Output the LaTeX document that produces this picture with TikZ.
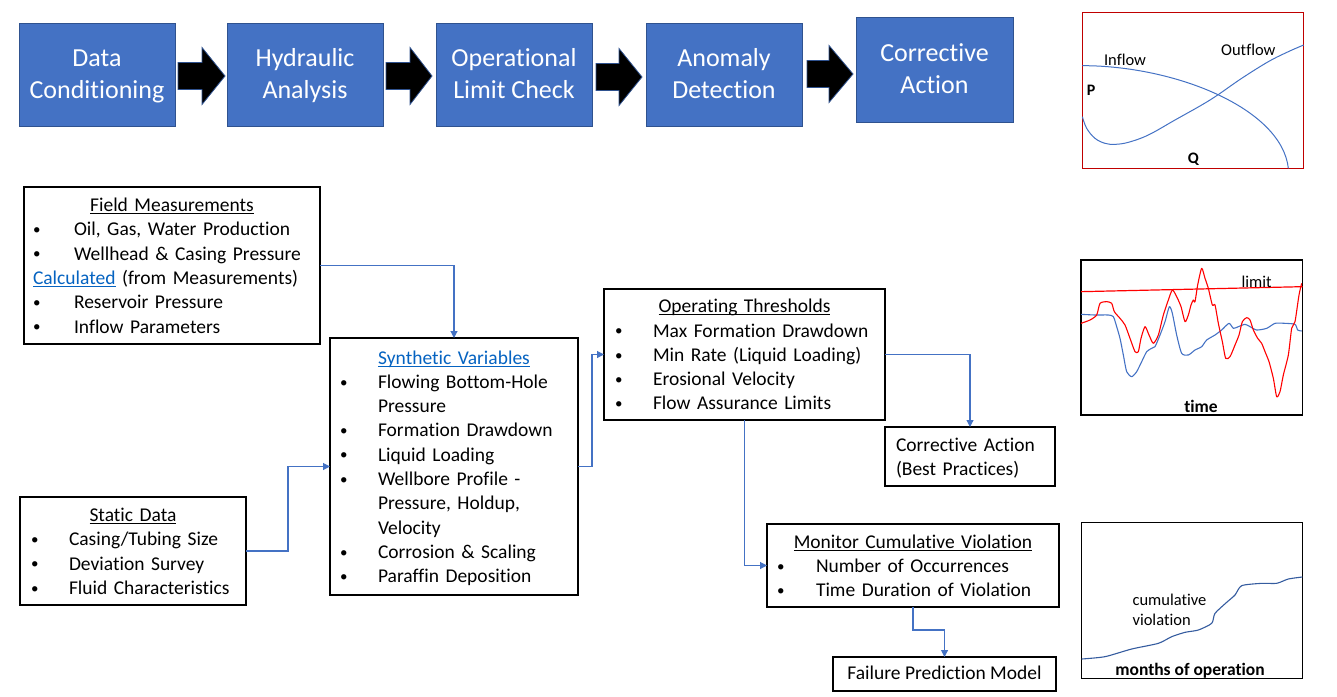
\documentclass[tikz,border=0pt]{standalone}
\usepackage{fontspec}
\setmainfont{Carlito}[Ligatures=NoCommon]
\usetikzlibrary{arrows.meta}
\definecolor{boxblue}{HTML}{4472C4}
\definecolor{boxedge}{HTML}{2F528F}
\definecolor{linkblue}{HTML}{0563C1}
\definecolor{darkred}{HTML}{C00000}
\definecolor{plotred}{HTML}{FF0000}
\newcommand\bul[1]{\makebox[#1][l]{\raisebox{1.3pt}{\fontsize{15}{15}\selectfont •}}}
\newcommand\myul[1]{\leavevmode\setbox0\hbox{#1}\rlap{\rule[-2.6pt]{\wd0}{0.9pt}}\box0}
\newcommand\ctr[1]{\makebox[\hsize]{#1}}
\newcommand\tsa{\rule{0pt}{26.4pt}}
\newcommand\tsb{\rule[-9.6pt]{0pt}{0pt}}
\newcommand\bsa{\rule{0pt}{21pt}}
\begin{document}
\begin{tikzpicture}[x=1pt,y=-1pt,
  topbox/.style={draw=boxedge, line width=1pt, fill=boxblue, text=white, align=center,
    inner sep=0pt, outer sep=0pt, font=\fontsize{26}{32}\selectfont},
  tbox/.style={draw=black, line width=1.1pt, fill=white, align=left, inner ysep=0pt, outer sep=0pt,
    font=\fontsize{19.5}{24.3}\selectfont, execute at begin node={\setlength{\parindent}{0pt}}},
  conn/.style={draw=boxblue, line width=1.1pt, -{Triangle[width=7pt,length=7pt]}},
  blk/.style={fill=black, draw=boxedge, line width=0.8pt},
  lbl/.style={inner sep=0pt, font=\fontsize{16.5}{20}\selectfont},
  blbl/.style={inner sep=0pt, font=\fontsize{17.5}{20}\selectfont\bfseries},
  plotline/.style={line width=1.1pt, line join=round}]
\useasboundingbox (0,0) rectangle (1337,696);

% top process boxes
\node[topbox, minimum width=156pt, minimum height=103pt] (t1) at (97,74.5) {\tsa Data\\Conditioning\tsb};
\node[topbox, minimum width=156pt, minimum height=103pt] (t2) at (305,74.5) {\tsa Hydraulic\\Analysis\tsb};
\node[topbox, minimum width=156pt, minimum height=103pt] (t3) at (514,74.5) {\tsa Operational\\Limit Check\tsb};
\node[topbox, minimum width=156pt, minimum height=103pt] (t4) at (724,74.5) {\tsa Anomaly\\Detection\tsb};
\node[topbox, minimum width=157pt, minimum height=105pt] (t5) at (934.5,69.5) {\tsa Corrective\\Action\tsb};

% block arrows
\filldraw[blk] (178,62.5) -- (202,62.5) -- (202,47.5) -- (225,76) -- (202,104.5) -- (202,89.5) -- (178,89.5) -- cycle;
\filldraw[blk] (386,62.5) -- (410,62.5) -- (410,47.5) -- (432,76) -- (410,104.5) -- (410,89.5) -- (386,89.5) -- cycle;
\filldraw[blk] (596,63.5) -- (619,63.5) -- (619,48.5) -- (642,77) -- (619,105.5) -- (619,90.5) -- (596,90.5) -- cycle;
\filldraw[blk] (807,60.5) -- (829,60.5) -- (829,45.5) -- (853,74) -- (829,102.5) -- (829,87.5) -- (807,87.5) -- cycle;

% text boxes
\node[tbox, minimum width=296pt, minimum height=157pt, inner xsep=9pt, text width=278pt] (fm) at (172,265.5)
 {\bsa\ctr{\myul{Field Measurements}}\\
  \bul{41pt}Oil, Gas, Water Production\\
  \bul{41pt}Wellhead \& Casing Pressure\\
  {\color{linkblue}\myul{Calculated}} (from Measurements)\\
  \bul{41pt}Reservoir Pressure\\
  \bul{41pt}Inflow Parameters\strut};

\node[tbox, minimum width=226pt, minimum height=108pt, inner xsep=11pt, text width=204pt] (sd) at (133,551)
 {\bsa\ctr{\myul{Static Data}}\\
  \bul{38pt}Casing/Tubing Size\\
  \bul{38pt}Deviation Survey\\
  \bul{38pt}Fluid Characteristics\strut};

\node[tbox, minimum width=248pt, minimum height=257pt, inner xsep=10pt, text width=228pt] (syn) at (454,466.5)
 {\bsa\ctr{\color{linkblue}\myul{Synthetic Variables}}\\
  \bul{38pt}Flowing Bottom-Hole\\
  \hspace*{38pt}Pressure\\
  \bul{38pt}Formation Drawdown\\
  \bul{38pt}Liquid Loading\\
  \bul{38pt}Wellbore Profile -\\
  \hspace*{38pt}Pressure, Holdup,\\
  \hspace*{38pt}Velocity\\
  \bul{38pt}Corrosion \& Scaling\\
  \bul{38pt}Paraffin Deposition\strut};

\node[tbox, minimum width=281pt, minimum height=131pt, inner xsep=11pt, text width=259pt] (op) at (744.5,354.5)
 {\bsa\ctr{\myul{Operating Thresholds}}\\
  \bul{38pt}Max Formation Drawdown\\
  \bul{38pt}Min Rate (Liquid Loading)\\
  \bul{38pt}Erosional Velocity\\
  \bul{38pt}Flow Assurance Limits\strut};

\node[tbox, minimum width=170pt, minimum height=59pt, inner xsep=11pt, text width=148pt] (cbp) at (970,456.5)
 {\bsa Corrective Action\\(Best Practices)\strut};

\node[tbox, minimum width=292pt, minimum height=83pt, inner xsep=10pt, text width=272pt] (mon) at (913,565.5)
 {\bsa\ctr{\myul{Monitor Cumulative Violation}}\\
  \bul{39pt}Number of Occurrences\\
  \bul{39pt}Time Duration of Violation\strut};

\node[tbox, minimum width=223pt, minimum height=34pt, align=center] (fail) at (944.5,674) {\rule{0pt}{19pt}Failure Prediction Model\strut};

% connectors
\draw[conn] (fm.east) -| (syn.north);
\draw[conn] (sd.east) -- ++(42,0) |- (syn.west);
\draw[conn] (syn.east) -- ++(14,0) |- (op.west);
\draw[conn] (op.east) -| (cbp.north);
\draw[conn] (op.south) |- (mon.west);
\draw[conn] (mon.south) -- ++(0,23) -| (fail.north);

% chart 1: inflow / outflow
\begin{scope}[xshift=1075pt, yshift=-5pt, x=1/3pt, y=-1/3pt]
  \draw[darkred, line width=1.1pt] (22,22) rectangle (686,490);
  \draw[boxblue, line width=1pt] (22,182) .. controls (300,182) and (620,310) .. (640,490);
  \draw[boxblue, line width=1pt] plot[smooth, tension=0.6] coordinates {(22,335) (35,370) (60,400) (90,415) (120,418) (160,412) (220,390) (300,345) (380,300) (428,270) (500,220) (580,170) (640,140) (686,120)};
  \node[lbl] (inflowlbl) at (150,165) {Inflow};
  \node[lbl] (outflowlbl) at (520,133) {Outflow};
  \node[blbl, font=\fontsize{16}{18}\selectfont\bfseries] (plbl) at (48,255) {P};
  \node[blbl, font=\fontsize{16}{18}\selectfont\bfseries] (qlbl) at (355,462) {Q};
\end{scope}

% chart 2: limit over time
\begin{scope}[xshift=1075pt, yshift=-255pt, x=1/3pt, y=-1/3pt]
  \draw[black, line width=1.1pt] (18,15) rectangle (683,480);
  \draw[plotred, line width=1.2pt] (18,110) -- (683,95);
  \draw[boxblue, plotline] plot[smooth, tension=0.4] coordinates {(18,178) (60,180) (100,180) (115,185) (125,215) (135,250) (145,300) (155,350) (170,365) (185,350) (200,320) (215,290) (230,280) (240,275) (255,240) (270,200) (283,155) (292,175) (305,240) (320,295) (340,300) (360,285) (380,275) (395,255) (420,240) (440,225) (462,205) (475,220) (490,215) (510,208) (525,215) (545,225) (575,220) (600,205) (630,205) (660,208) (668,225) (680,228)};
  \draw[plotred, plotline] plot[smooth, tension=0.4] coordinates {(18,205) (45,195) (65,180) (75,145) (95,140) (110,145) (118,170) (135,190) (150,210) (165,250) (180,290) (190,290) (198,250) (210,215) (222,240) (235,265) (250,240) (265,180) (280,135) (292,105) (305,125) (318,155) (330,200) (340,180) (348,150) (355,135) (360,140) (368,90) (380,40) (390,70) (400,100) (412,150) (420,150) (430,205) (442,260) (452,310) (465,305) (480,270) (492,240) (502,200) (515,188) (525,195) (535,225) (548,250) (560,265) (570,290) (582,320) (595,370) (605,425) (615,410) (625,360) (640,300) (650,220) (660,200) (672,120) (680,85)};
  \node[lbl] (limitlbl) at (545,80) {limit};
  \node[blbl] (timelbl) at (378,455) {time};
\end{scope}

% chart 3: cumulative violation
\begin{scope}[xshift=1075pt, yshift=-515pt, x=1/3pt, y=-1/3pt]
  \draw[black, line width=1.1pt] (20,22) rectangle (682,490);
  \draw[boxedge!70!boxblue, plotline] plot[smooth, tension=0.4] coordinates {(20,432) (90,425) (170,402) (250,385) (290,365) (330,352) (370,345) (410,325) (420,295) (455,262) (480,240) (500,212) (560,205) (605,205) (640,192) (682,186)};
  \node[lbl, align=left, anchor=west, font=\fontsize{16.5}{20.5}\selectfont] (cumlbl) at (172,284) {cumulative\\violation};
  \node[blbl] (monthslbl) at (345,466) {months of operation};
\end{scope}
\end{tikzpicture}
\end{document}
